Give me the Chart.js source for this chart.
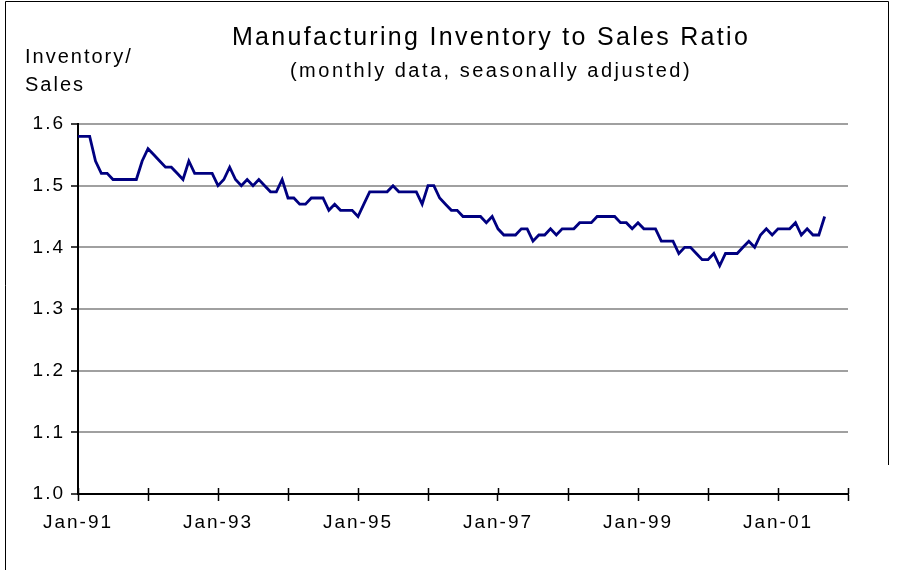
<!DOCTYPE html>
<html>
<head>
<meta charset="utf-8">
<script src="https://cdn.jsdelivr.net/npm/chart.js@4.4.1/dist/chart.umd.min.js"></script>
<style>
  html, body { margin: 0; padding: 0; background: #fff; }
  #wrap { width: 900px; height: 570px; position: relative; }
</style>
</head>
<body>
<div id="wrap"><canvas id="c" width="900" height="570"></canvas></div>
<script>
// ---- data (monthly, Jan-91 onward) ----
const chartTitle = 'Manufacturing Inventory to Sales Ratio';
const chartSubtitle = '(monthly data, seasonally adjusted)';
const yCaption = ['Inventory/', 'Sales'];
const yearLabels = ['Jan-91','Jan-92','Jan-93','Jan-94','Jan-95','Jan-96','Jan-97','Jan-98','Jan-99','Jan-00','Jan-01','Jan-02'];
const yTickValues = [1.0, 1.1, 1.2, 1.3, 1.4, 1.5, 1.6];
const ratio1991_1993 = [1.58,1.58,1.58,1.54,1.52,1.52,1.51,1.51,1.51,1.51,1.51,1.54,
                        1.56,1.55,1.54,1.53,1.53,1.52,1.51,1.54,1.52,1.52,1.52,1.52,
                        1.50,1.51,1.53,1.51,1.50,1.51,1.50,1.51,1.50,1.49,1.49,1.51];
const ratio1994_1996 = [1.48,1.48,1.47,1.47,1.48,1.48,1.48,1.46,1.47,1.46,1.46,1.46,
                        1.45,1.47,1.49,1.49,1.49,1.49,1.50,1.49,1.49,1.49,1.49,1.47,
                        1.50,1.50,1.48,1.47,1.46,1.46,1.45,1.45,1.45,1.45,1.44,1.45];
const ratio1997_1999 = [1.43,1.42,1.42,1.42,1.43,1.43,1.41,1.42,1.42,1.43,1.42,1.43,
                        1.43,1.43,1.44,1.44,1.44,1.45,1.45,1.45,1.45,1.44,1.44,1.43,
                        1.44,1.43,1.43,1.43,1.41,1.41,1.41,1.39,1.40,1.40,1.39,1.38];
const ratio2000_2001 = [1.38,1.39,1.37,1.39,1.39,1.39,1.40,1.41,1.40,1.42,1.43,1.42,
                        1.43,1.43,1.43,1.44,1.42,1.43,1.42,1.42,1.45];
const ratio = [].concat(ratio1991_1993, ratio1994_1996, ratio1997_1999, ratio2000_2001);

const points = ratio.map((v, i) => ({ x: i, y: v }));
const FONT = "'Liberation Sans', Arial, sans-serif";

const decorations = {
  id: 'decorations',
  beforeDraw(chart) {
    const c = chart.ctx;
    c.save();
    c.fillStyle = '#fff';
    c.fillRect(0, 0, chart.width, chart.height);
    c.restore();
    c.letterSpacing = '2px';
  },
  afterDraw(chart) {
    const c = chart.ctx;
    const xs = chart.scales.x;
    const area = chart.chartArea;
    c.save();
    // inner half of the x-axis tick marks (crossing ticks)
    c.strokeStyle = '#000';
    c.lineWidth = 1.5;
    xs.ticks.forEach(t => {
      const px = Math.round(xs.getPixelForValue(t.value)) + 0.5;
      c.beginPath();
      c.moveTo(px, area.bottom - 6);
      c.lineTo(px, area.bottom);
      c.stroke();
    });
    // titles
    c.fillStyle = '#000';
    c.textAlign = 'center';
    c.textBaseline = 'middle';
    c.letterSpacing = '2.3px';
    c.font = '25px ' + FONT;
    c.fillText(chartTitle, 491, 38);
    c.letterSpacing = '2.5px';
    c.font = '20px ' + FONT;
    c.fillText(chartSubtitle, 491, 71);
    c.textAlign = 'left';
    c.letterSpacing = '2px';
    c.fillText(yCaption[0], 25, 57);
    c.fillText(yCaption[1], 25, 85);
    // frame
    c.strokeStyle = '#000';
    c.lineWidth = 1;
    c.beginPath();
    c.moveTo(5.5, 570);
    c.lineTo(5.5, 1.5);
    c.lineTo(888.5, 1.5);
    c.lineTo(888.5, 465);
    c.stroke();
    c.restore();
  }
};

new Chart(document.getElementById('c'), {
  type: 'line',
  data: {
    datasets: [{
      data: points,
      borderColor: '#000080',
      borderWidth: 2.8,
      pointRadius: 0,
      tension: 0,
      fill: false
    }]
  },
  options: {
    responsive: false,
    animation: false,
    devicePixelRatio: 1,
    layout: { padding: { top: 124, right: 52, left: 0, bottom: 0 } },
    plugins: { legend: { display: false }, title: { display: false }, tooltip: { enabled: false } },
    scales: {
      x: {
        type: 'linear',
        min: 0,
        max: (yearLabels.length - 1) * 12,
        afterBuildTicks(scale) {
          scale.ticks = yearLabels.map((l, i) => ({ value: i * 12 }));
        },
        afterFit(scale) { scale.height = 76; },
        ticks: {
          autoSkip: false,
          maxRotation: 0,
          padding: 10,
          color: '#000',
          font: { family: FONT, size: 19 },
          callback: (v) => { const i = Math.round(v / 12); return i % 2 === 0 ? yearLabels[i] : ''; }
        },
        grid: {
          display: true,
          drawOnChartArea: false,
          drawTicks: true,
          tickLength: 7,
          tickColor: '#000',
          tickWidth: 1.5
        },
        border: { display: true, color: '#000', width: 2 }
      },
      y: {
        min: yTickValues[0],
        max: yTickValues[yTickValues.length - 1],
        afterBuildTicks(scale) {
          scale.ticks = yTickValues.map(v => ({ value: v }));
        },
        afterFit(scale) { scale.width = 78; },
        ticks: {
          padding: 6,
          color: '#000',
          font: { family: FONT, size: 19 },
          callback: (v) => Number(v).toFixed(1)
        },
        grid: {
          color: (ctx) => (ctx.tick && Math.abs(ctx.tick.value - yTickValues[0]) < 1e-9) ? 'rgba(0,0,0,0)' : '#a0a0a0',
          lineWidth: 2,
          drawTicks: true,
          tickLength: 7,
          tickColor: '#000',
          tickWidth: 1.5
        },
        border: { display: true, color: '#000', width: 2 }
      }
    }
  },
  plugins: [decorations]
});
</script>
</body>
</html>
